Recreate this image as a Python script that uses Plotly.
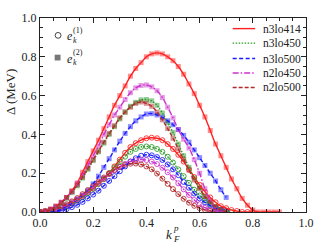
import plotly.graph_objects as go

# ---------------- data ----------------
kF = [0.00, 0.02, 0.04, 0.06, 0.08, 0.10, 0.12, 0.14, 0.16, 0.18,
      0.20, 0.22, 0.24, 0.26, 0.28, 0.30, 0.32, 0.34, 0.36, 0.38,
      0.40, 0.42, 0.44, 0.46, 0.48, 0.50, 0.52, 0.54, 0.56, 0.58,
      0.60, 0.62, 0.64, 0.66, 0.68, 0.70, 0.72, 0.74, 0.76, 0.78,
      0.80, 0.82, 0.84, 0.86, 0.88, 0.90]

names = ["n3lo414", "n3lo450", "n3lo500", "n2lo450", "n2lo500"]

# e_k^(2) (squares)
e2_n3lo414 = [0.00, 0.005, 0.015, 0.03, 0.05, 0.075, 0.11, 0.15, 0.205, 0.26,
              0.315, 0.37, 0.43, 0.49, 0.55, 0.60, 0.65, 0.70, 0.74, 0.77,
              0.80, 0.815, 0.82, 0.815, 0.80, 0.78, 0.75, 0.71, 0.66, 0.61,
              0.55, 0.49, 0.42, 0.35, 0.29, 0.23, 0.17, 0.12, 0.07, 0.035,
              0.01, 0.0, 0.0, 0.0, 0.0, 0.0]
e2_n3lo450 = [0.0, 0.004, 0.012, 0.025, 0.045, 0.07, 0.10, 0.135, 0.175, 0.22,
              0.265, 0.31, 0.355, 0.40, 0.44, 0.48, 0.515, 0.545, 0.565, 0.578,
              0.58, 0.573, 0.55, 0.51, 0.46, 0.41, 0.35, 0.29, 0.23, 0.175,
              0.125, 0.08, 0.05, 0.025, 0.01, 0.0]
e2_n3lo500 = [None, None, 0.0, 0.005, 0.015, 0.03, 0.045, 0.065, 0.085, 0.11,
              0.145, 0.185, 0.23, 0.275, 0.32, 0.365, 0.405, 0.44, 0.47, 0.49,
              0.505, 0.507, 0.50, 0.488, 0.47, 0.45, 0.425, 0.395, 0.36, 0.32,
              0.28, 0.24, 0.20, 0.16, 0.115, 0.075]
e2_n2lo450 = [0.0, 0.005, 0.015, 0.03, 0.05, 0.075, 0.105, 0.145, 0.19, 0.24,
              0.29, 0.34, 0.40, 0.45, 0.50, 0.54, 0.58, 0.615, 0.64, 0.652,
              0.655, 0.645, 0.625, 0.59, 0.54, 0.485, 0.425, 0.375, 0.33, 0.27,
              0.20, 0.12, 0.06, 0.02, 0.005, 0.0]
e2_n2lo500 = [0.0, 0.004, 0.013, 0.028, 0.048, 0.075, 0.105, 0.14, 0.18, 0.225,
              0.27, 0.315, 0.36, 0.405, 0.445, 0.485, 0.515, 0.54, 0.56, 0.567,
              0.56, 0.545, 0.515, 0.475, 0.43, 0.38, 0.325, 0.27, 0.215, 0.165,
              0.12, 0.08, 0.05, 0.025, 0.01, 0.0]

# e_k^(1) (circles)
e1_n3lo414 = [0.0, 0.002, 0.006, 0.012, 0.02, 0.03, 0.045, 0.06, 0.08, 0.10,
              0.12, 0.145, 0.17, 0.20, 0.235, 0.27, 0.305, 0.335, 0.355, 0.37,
              0.38, 0.383, 0.38, 0.37, 0.35, 0.325, 0.295, 0.26, 0.22, 0.18,
              0.14, 0.105, 0.075, 0.05, 0.03, 0.02, 0.01, 0.005, 0.0, 0.0, 0.0]
e1_n3lo450 = [0.0, 0.002, 0.006, 0.012, 0.02, 0.03, 0.043, 0.058, 0.076, 0.097,
              0.12, 0.145, 0.17, 0.20, 0.23, 0.26, 0.285, 0.31, 0.325, 0.335,
              0.338, 0.335, 0.325, 0.31, 0.285, 0.255, 0.22, 0.185, 0.15, 0.115,
              0.085, 0.06, 0.04, 0.025, 0.012, 0.005, 0.0]
e1_n3lo500 = [None, None, 0.0, 0.003, 0.008, 0.015, 0.025, 0.037, 0.052, 0.07,
              0.09, 0.11, 0.135, 0.16, 0.185, 0.21, 0.235, 0.26, 0.277, 0.29,
              0.295, 0.292, 0.283, 0.268, 0.245, 0.22, 0.19, 0.155, 0.125, 0.095,
              0.07, 0.05, 0.033, 0.02, 0.01, 0.005]
e1_n2lo450 = [0.0, 0.002, 0.007, 0.014, 0.023, 0.035, 0.05, 0.066, 0.085, 0.105,
              0.127, 0.15, 0.172, 0.195, 0.215, 0.233, 0.248, 0.26, 0.267, 0.27,
              0.268, 0.26, 0.247, 0.228, 0.205, 0.178, 0.148, 0.117, 0.088, 0.062,
              0.04, 0.022, 0.01, 0.004, 0.0]
e1_n2lo500 = [0.0, 0.003, 0.008, 0.016, 0.027, 0.04, 0.055, 0.072, 0.092, 0.113,
              0.135, 0.157, 0.178, 0.198, 0.217, 0.232, 0.243, 0.249, 0.25, 0.245,
              0.235, 0.22, 0.198, 0.172, 0.145, 0.118, 0.092, 0.068, 0.048, 0.032,
              0.02, 0.011, 0.005, 0.0]

x_ticks = [0.0, 0.2, 0.4, 0.6, 0.8, 1.0]
y_ticks = [0.0, 0.2, 0.4, 0.6, 0.8, 1.0]

# ---------------- styles ----------------
colors = {"n3lo414": "#ff2020", "n3lo450": "#2a9a2a", "n3lo500": "#1a1aff",
          "n2lo450": "#cc33cc", "n2lo500": "#b22a2a"}
dashes = {"n3lo414": "solid", "n3lo450": "1.5px,1.5px", "n3lo500": "4px,2.5px",
          "n2lo450": "6px,2px,1.5px,2px", "n2lo500": "4px,2px"}

e1 = {"n3lo414": e1_n3lo414, "n3lo450": e1_n3lo450, "n3lo500": e1_n3lo500,
      "n2lo450": e1_n2lo450, "n2lo500": e1_n2lo500}
e2 = {"n3lo414": e2_n3lo414, "n3lo450": e2_n3lo450, "n3lo500": e2_n3lo500,
      "n2lo450": e2_n2lo450, "n2lo500": e2_n2lo500}


def pad(v):
    return list(v) + [None] * (len(kF) - len(v))


fig = go.Figure()
FONT = "Liberation Serif"

# markers first
for n in names:
    fig.add_trace(go.Scatter(x=kF, y=pad(e2[n]), mode="markers",
                             marker=dict(symbol="square", size=5, color=colors[n],
                                         opacity=0.5, line=dict(width=0)),
                             showlegend=False, hoverinfo="skip"))
    fig.add_trace(go.Scatter(x=kF, y=pad(e1[n]), mode="markers",
                             marker=dict(symbol="circle-open", size=5, color=colors[n],
                                         opacity=0.85, line=dict(width=1)),
                             showlegend=False, hoverinfo="skip"))
# lines on top
for n in names:
    for d in (e2[n], e1[n]):
        fig.add_trace(go.Scatter(x=kF, y=pad(d), mode="lines", line_shape="spline",
                                 line=dict(color=colors[n], width=1.4, dash=dashes[n]),
                                 showlegend=False, hoverinfo="skip",
                                 connectgaps=False))

# ---------------- layout helpers ----------------
L, R, T, B = 40, 312, 11, 212
W, H = 325, 249


def px(xp):
    return (xp - L) / (R - L)


def py(yp):
    return (B - yp) / (B - T)


shapes = []
annotations = []

# line legend (right)
leg_y = [22, 37, 53, 68, 83]
for n, yy in zip(names, leg_y):
    shapes.append(dict(type="line", xref="paper", yref="paper",
                       x0=px(237), x1=px(260), y0=py(yy), y1=py(yy),
                       line=dict(color=colors[n], width=1.4, dash=dashes[n])))
    annotations.append(dict(xref="paper", yref="paper", x=px(266), y=py(yy),
                            text=n, showarrow=False, xanchor="left", yanchor="middle",
                            font=dict(family=FONT, size=11.5, color="#222")))

# marker legend (left)
shapes.append(dict(type="circle", xref="paper", yref="paper",
                   x0=px(55.5), x1=px(61.5), y0=py(32), y1=py(26),
                   line=dict(color="#444", width=1)))
shapes.append(dict(type="rect", xref="paper", yref="paper",
                   x0=px(55), x1=px(61), y0=py(55), y1=py(49),
                   fillcolor="#777", line=dict(width=0)))
for yy, lab in zip([29, 52], ["(1)", "(2)"]):
    annotations.append(dict(xref="paper", yref="paper", x=px(66), y=py(yy + 1),
                            text="<i>e</i>", showarrow=False, xanchor="left",
                            yanchor="middle", font=dict(family=FONT, size=12, color="#222")))
    annotations.append(dict(xref="paper", yref="paper", x=px(72), y=py(yy - 5),
                            text=lab, showarrow=False, xanchor="left",
                            yanchor="middle", font=dict(family=FONT, size=8, color="#222")))
    annotations.append(dict(xref="paper", yref="paper", x=px(72), y=py(yy + 5),
                            text="<i>k</i>", showarrow=False, xanchor="left",
                            yanchor="middle", font=dict(family=FONT, size=8, color="#222")))

# axis titles
annotations.append(dict(xref="paper", yref="paper", x=px(10), y=py(88),
                        text="Δ (MeV)", textangle=-90, showarrow=False,
                        xanchor="center", yanchor="middle",
                        font=dict(family=FONT, size=13, color="#222")))
annotations.append(dict(xref="paper", yref="paper", x=px(167), y=py(235),
                        text="<i>k</i>", showarrow=False, xanchor="left",
                        yanchor="middle", font=dict(family=FONT, size=13, color="#222")))
annotations.append(dict(xref="paper", yref="paper", x=px(174), y=py(240),
                        text="<i>F</i>", showarrow=False, xanchor="left",
                        yanchor="middle", font=dict(family=FONT, size=9, color="#222")))
annotations.append(dict(xref="paper", yref="paper", x=px(174), y=py(229),
                        text="<i>p</i>", showarrow=False, xanchor="left",
                        yanchor="middle", font=dict(family=FONT, size=9, color="#222")))

axis_common = dict(showline=True, linecolor="#222", linewidth=1, mirror="ticks",
                   ticks="inside", ticklen=5, tickwidth=1, tickcolor="#222",
                   showgrid=False, zeroline=False,
                   tickfont=dict(family=FONT, size=12, color="#222"),
                   minor=dict(ticks="inside", ticklen=3, tickwidth=1,
                              tickcolor="#222", dtick=0.05, showgrid=False))

fig.update_layout(
    width=W, height=H,
    margin=dict(l=L, r=W - R, t=T, b=H - B),
    paper_bgcolor="white", plot_bgcolor="white",
    xaxis=dict(range=[0, 1], tickvals=x_ticks,
               ticktext=[f"{v:.1f}" for v in x_ticks], **axis_common),
    yaxis=dict(range=[0, 1], tickvals=y_ticks,
               ticktext=[f"{v:.1f}" for v in y_ticks], **axis_common),
    shapes=shapes, annotations=annotations, showlegend=False,
)

fig.write_html("out.html", config={"displayModeBar": False},
               post_script="document.body.style.margin='0';document.body.style.overflow='hidden';")
